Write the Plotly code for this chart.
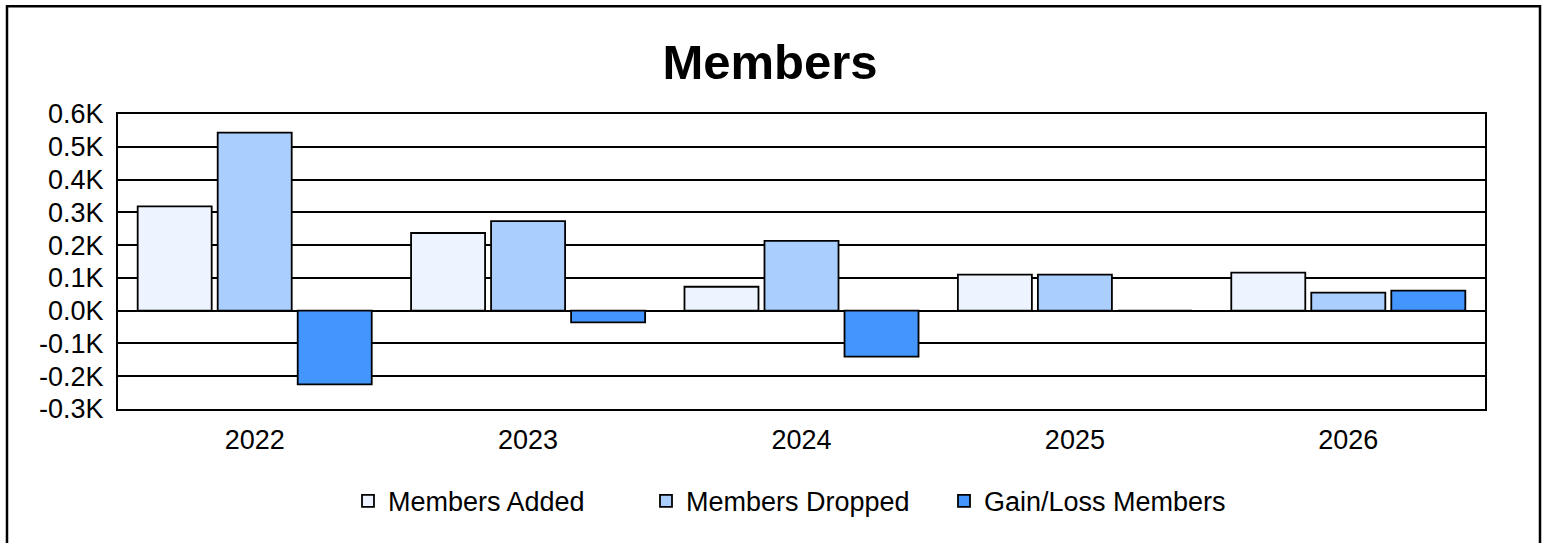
import plotly.graph_objects as go

years = ["2022", "2023", "2024", "2025", "2026"]
members_added = [318, 237, 73, 110, 116]
members_dropped = [543, 273, 213, 110, 55]
gain_loss = [-225, -36, -140, 0, 61]

tick_vals = [-300, -200, -100, 0, 100, 200, 300, 400, 500, 600]
tick_text = ["-0.3K", "-0.2K", "-0.1K", "0.0K", "0.1K", "0.2K", "0.3K", "0.4K", "0.5K", "0.6K"]

W, H = 1552, 543
L, R, T, B = 118, 1485, 114, 409.5
pw, ph = R - L, B - T

font_family = "Liberation Sans, Arial, sans-serif"

fig = go.Figure()
series = [
    ("Members Added", members_added, "#EDF4FF"),
    ("Members Dropped", members_dropped, "#AACFFF"),
    ("Gain/Loss Members", gain_loss, "#4496FF"),
]
for name, vals, color in series:
    fig.add_trace(go.Bar(
        x=years, y=vals, name=name,
        marker=dict(color=color, line=dict(color="#000000", width=1.8)),
    ))

fig.update_layout(
    width=W, height=H,
    margin=dict(l=L, r=W - R, t=T, b=H - B, pad=0),
    paper_bgcolor="white",
    plot_bgcolor="white",
    barmode="group",
    bargap=0.122,
    bargroupgap=0.075,
    font=dict(family=font_family, color="#000000", size=26),
    title=dict(
        text="<b>Members</b>",
        font=dict(family=font_family, size=49, color="#000000"),
        x=770 / W, xanchor="center", xref="container",
        y=(H - 62) / H, yanchor="middle", yref="container",
    ),
    showlegend=True,
    legend=dict(
        orientation="h",
        x=(348 - L) / pw, xanchor="left",
        y=(B - 502) / ph, yanchor="middle",
        font=dict(family=font_family, size=27, color="#000000"),
        entrywidth=253, entrywidthmode="pixels",
        bgcolor="rgba(0,0,0,0)",
        traceorder="normal",
    ),
    xaxis=dict(
        showgrid=False,
        showline=True, linecolor="#000000", linewidth=2, mirror=True,
        ticks="outside", ticklen=6, tickcolor="rgba(0,0,0,0)",
        tickfont=dict(size=27),
    ),
    yaxis=dict(
        range=[-300, 600],
        tickvals=tick_vals, ticktext=tick_text,
        showgrid=True, gridcolor="#000000", gridwidth=2,
        zeroline=True, zerolinecolor="#000000", zerolinewidth=2,
        showline=True, linecolor="#000000", linewidth=2, mirror=True,
        ticks="outside", ticklen=7, tickcolor="rgba(0,0,0,0)",
        tickfont=dict(size=27),
    ),
)

# outer frame of the chart image
fig.add_shape(
    type="rect", xref="paper", yref="paper",
    x0=(7 - L) / pw, x1=(1540 - L) / pw,
    y0=(B - 560) / ph, y1=(B - 6) / ph,
    line=dict(color="#000000", width=2.5), fillcolor="rgba(0,0,0,0)",
    layer="above",
)

fig.write_html(
    "out.html",
    config={"displayModeBar": False},
    post_script="document.body.style.margin='0';document.body.style.overflow='hidden';",
)
